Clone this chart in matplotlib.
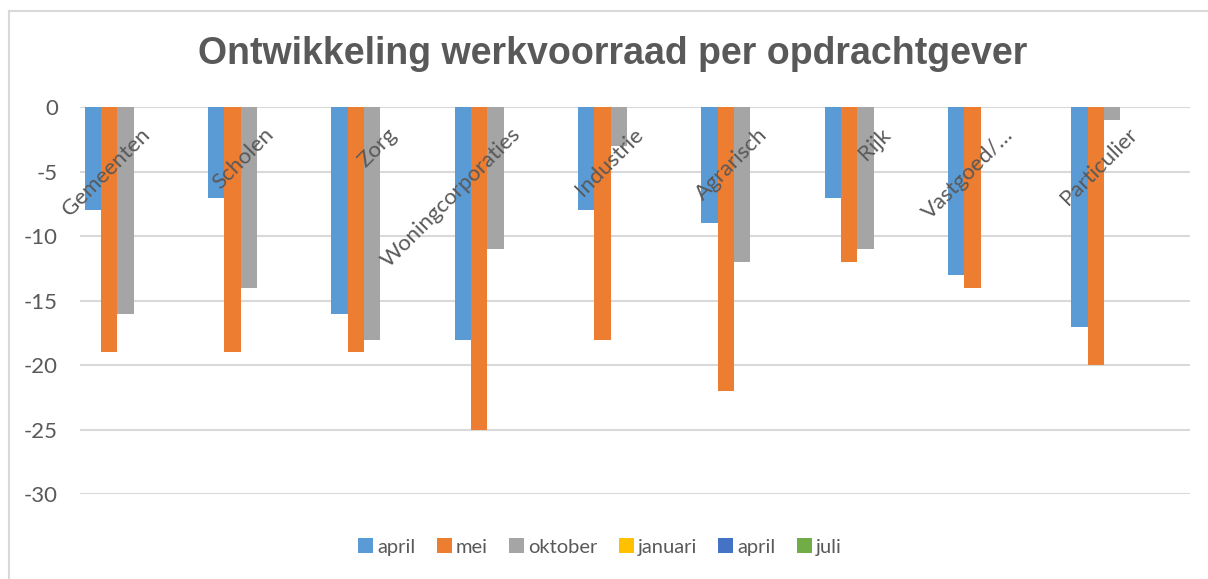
import numpy as np
import matplotlib
matplotlib.use("Agg")
import matplotlib.pyplot as plt
from matplotlib.lines import Line2D

categories = ["Gemeenten", "Scholen", "Zorg", "Woningcorporaties", "Industrie",
              "Agrarisch", "Rijk", "Vastgoed/…", "Particulier"]
series_names = ["april", "mei", "oktober", "januari", "april", "juli"]
april1 = [-8, -7, -16, -18, -8, -9, -7, -13, -17]
mei = [-19, -19, -19, -25, -18, -22, -12, -14, -20]
oktober = [-16, -14, -18, -11, -3, -12, -11, np.nan, -1]
januari = [np.nan] * 9
april2 = [np.nan] * 9
juli = [np.nan] * 9
series_values = [april1, mei, oktober, januari, april2, juli]
colors = ["#5B9BD5", "#ED7D31", "#A5A5A5", "#FFC000", "#4472C4", "#70AD47"]
yticks = [0, -5, -10, -15, -20, -25, -30]

W, H = 1208, 579
fig = plt.figure(figsize=(W / 100, H / 100), dpi=100)
ax = fig.add_axes([80 / W, 1 - 494.3 / H, 1110 / W, (494.3 - 107.3) / H])

x = np.arange(len(categories))
bw = 0.133
off0 = -0.5 + 0.0365
handles = []
for j, (name, vals, c) in enumerate(zip(series_names, series_values, colors)):
    b = ax.bar(x + off0 + bw * (j + 0.5), vals, width=bw, color=c, label=name,
               linewidth=0, zorder=3)
    handles.append(b)

ax.set_xlim(-0.5, len(categories) - 0.5)
ax.set_ylim(-30, 0)
ax.set_yticks(yticks)
ax.set_yticklabels([str(t) for t in yticks], fontsize=16, color="#595959",
                   family="Lato")
ax.tick_params(axis="y", length=0, pad=16)
ax.set_xticks([])
for s in ax.spines.values():
    s.set_visible(False)
ax.yaxis.grid(True, color="#D9D9D9", linewidth=1.5, zorder=0)
ax.set_axisbelow(True)

trans = matplotlib.transforms.blended_transform_factory(ax.transData, ax.transAxes)
for i, cat in enumerate(categories):
    ax.text(i + 0.045, 1 - 24 / 387, cat, rotation=45, rotation_mode="anchor",
            ha="right", va="center", fontsize=16, color="#595959",
            family="Lato", transform=trans, zorder=5)

fig.text(613 / W, 1 - 54 / H, "Ontwikkeling werkvoorraad per opdrachtgever",
         ha="center", va="center", fontsize=27, fontweight="bold",
         color="#595959", family="Liberation Sans")

leg = fig.legend(handles=handles, labels=series_names, loc="center",
                 bbox_to_anchor=(600 / W, 1 - 547 / H), ncol=6, frameon=False,
                 handlelength=0.75, handleheight=0.75, handletextpad=0.2,
                 columnspacing=1.05, prop={"family": "Lato", "size": 14.5})
for t in leg.get_texts():
    t.set_color("#595959")

fig.add_artist(Line2D([9 / W, 9 / W], [1 - 11 / H, -0.1], color="#D9D9D9",
                      linewidth=1.5, transform=fig.transFigure))
fig.add_artist(Line2D([9 / W, 1.1], [1 - 11 / H, 1 - 11 / H], color="#D9D9D9",
                      linewidth=1.5, transform=fig.transFigure))

fig.savefig("out.png", dpi=100)
